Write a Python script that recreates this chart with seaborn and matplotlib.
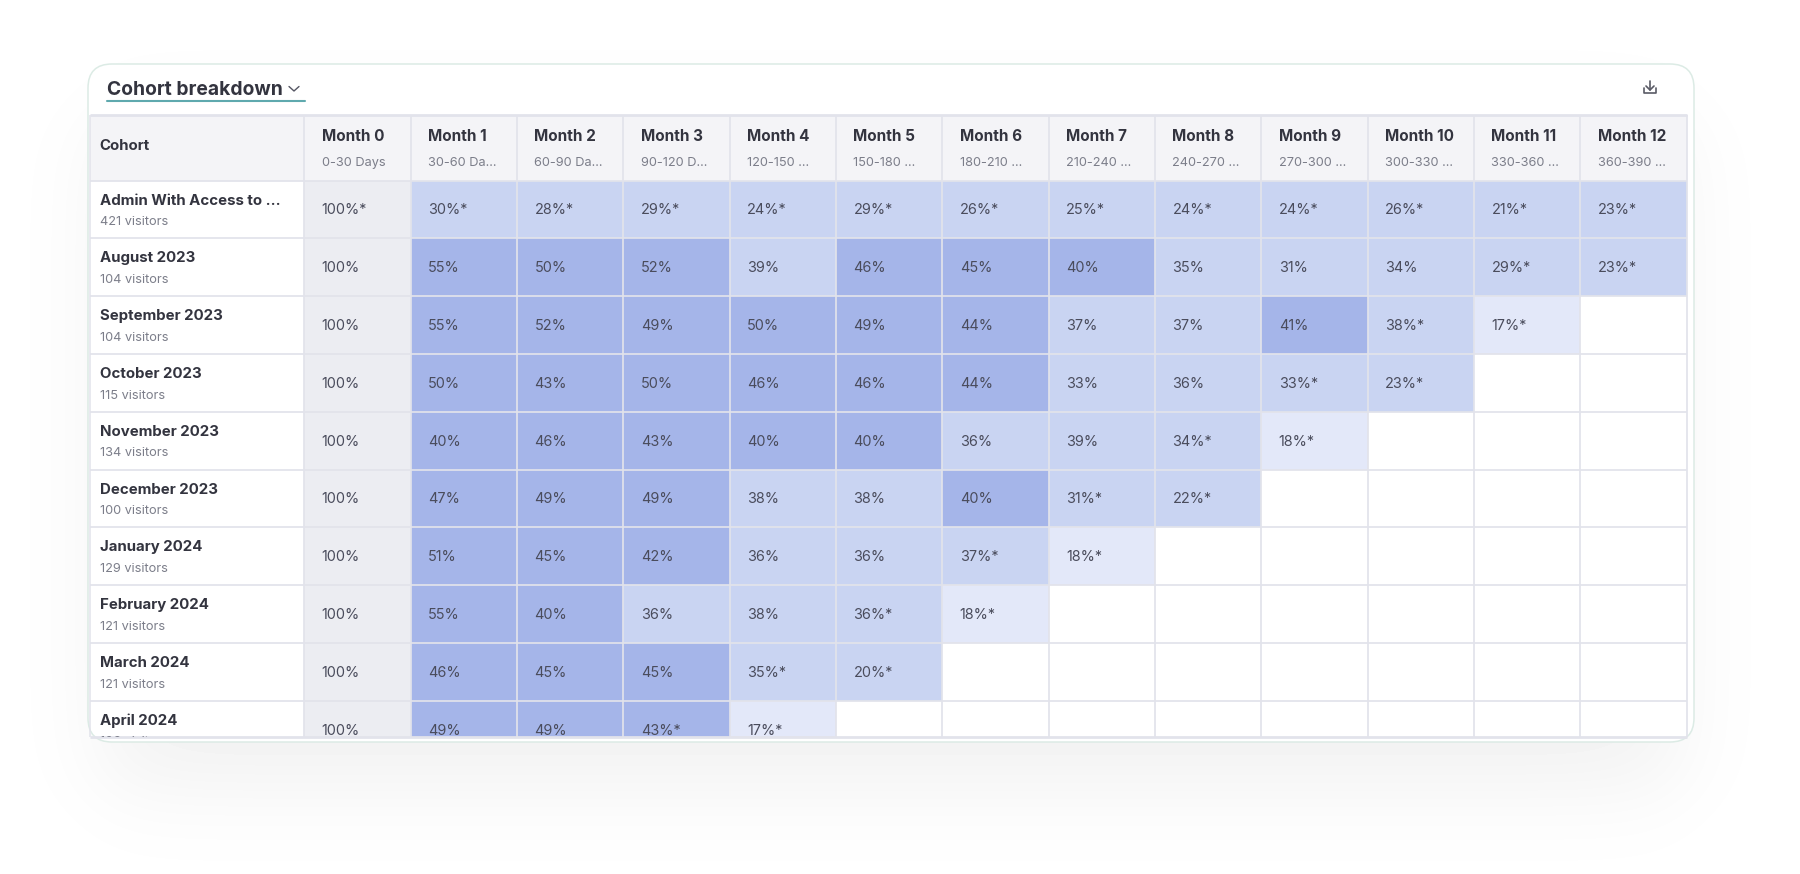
import numpy as np
import matplotlib
matplotlib.use("Agg")
import matplotlib.pyplot as plt
import seaborn as sns
from matplotlib.colors import ListedColormap, BoundaryNorm
from matplotlib.patches import FancyBboxPatch, Rectangle

months = ["Month 0", "Month 1", "Month 2", "Month 3", "Month 4", "Month 5", "Month 6",
          "Month 7", "Month 8", "Month 9", "Month 10", "Month 11", "Month 12"]
day_ranges = ["0-30 Days", "30-60 Da...", "60-90 Da...", "90-120 D...", "120-150 ...",
              "150-180 ...", "180-210 ...", "210-240 ...", "240-270 ...", "270-300 ...",
              "300-330 ...", "330-360 ...", "360-390 ..."]
cohorts = ["Admin With Access to ...", "August 2023", "September 2023", "October 2023",
           "November 2023", "December 2023", "January 2024", "February 2024",
           "March 2024", "April 2024"]
visitors = ["421 visitors", "104 visitors", "104 visitors", "115 visitors", "134 visitors",
            "100 visitors", "129 visitors", "121 visitors", "121 visitors", "106 visitors"]

admin = [100, 30, 28, 29, 24, 29, 26, 25, 24, 24, 26, 21, 23]
aug23 = [100, 55, 50, 52, 39, 46, 45, 40, 35, 31, 34, 29, 23]
sep23 = [100, 55, 52, 49, 50, 49, 44, 37, 37, 41, 38, 17]
oct23 = [100, 50, 43, 50, 46, 46, 44, 33, 36, 33, 23]
nov23 = [100, 40, 46, 43, 40, 40, 36, 39, 34, 18]
dec23 = [100, 47, 49, 49, 38, 38, 40, 31, 22]
jan24 = [100, 51, 45, 42, 36, 36, 37, 18]
feb24 = [100, 55, 40, 36, 38, 36, 18]
mar24 = [100, 46, 45, 45, 35, 20]
apr24 = [100, 49, 49, 43, 17]
rows = [admin, aug23, sep23, oct23, nov23, dec23, jan24, feb24, mar24, apr24]
# first month that carries the * in each row
star_from = [0, 11, 10, 9, 8, 7, 6, 5, 4, 3]

W, H = 1800, 874
GRID = "#E2E3EB"
DARK = "#33343F"
GREY = "#7C7E8A"
CELLTXT = "#4A4C5C"

sns.set_theme(style="white")
plt.rcParams["font.family"] = ["Inter", "DejaVu Sans"]

fig = plt.figure(figsize=(W / 100, H / 100), dpi=100, facecolor="white")

# page layer in pixel coordinates: shadow and card
bg = fig.add_axes([0, 0, 1, 1])
xx, yy = np.meshgrid(np.arange(W), np.arange(H))
sx = 0.5 * (np.tanh((xx - 100) / 55) - np.tanh((xx - 1680) / 55))
sy = 0.5 * (np.tanh((yy - 120) / 55) - np.tanh((yy - 790) / 55))
bg.imshow(1 - 0.055 * sx * sy, cmap="gray", vmin=0, vmax=1, extent=(0, W, H, 0), aspect="auto")
bg.add_patch(FancyBboxPatch((88, 64), 1606, 678, boxstyle="round,pad=0,rounding_size=24",
                            fc="white", ec="#DCEBE5", lw=1.1))
bg.text(107, 90, "Cohort breakdown", fontsize=13.9, fontweight="bold", color=DARK, va="center")
bg.plot([289, 294, 299], [86.5, 91, 86.5], color="#555663", lw=1.0)
bg.plot([107, 305], [101, 101], color="#5FA9AE", lw=1.5)
# download icon
bg.plot([1644, 1644, 1656, 1656], [88, 93, 93, 88], color="#5A5B66", lw=1.2)
bg.plot([1650, 1650], [81, 90], color="#5A5B66", lw=1.2)
bg.plot([1646, 1650, 1654], [86, 90, 86], color="#5A5B66", lw=1.2)
bg.set_xlim(0, W)
bg.set_ylim(H, 0)
bg.axis("off")

# heatmap layer, one data unit is one cell
left, right, top, bottom = 304.2, 1686.6, 180.6, 737.0
cell_w = (right - left) / 13
cell_h = 57.8
ax = fig.add_axes([left / W, 1 - bottom / H, (right - left) / W, (bottom - top) / H])
ax.patch.set_alpha(0)

n_rows, n_cols = len(rows), len(months)
values = np.full((n_rows, n_cols), np.nan)
labels = np.full((n_rows, n_cols), "", dtype=object)
for i, row in enumerate(rows):
    for j, v in enumerate(row):
        values[i, j] = v
        labels[i, j] = f"{v}%" + ("*" if j >= star_from[i] else "")

cmap = ListedColormap(["#E3E8F9", "#C9D4F2", "#A5B5E9", "#ECEDF2"])
norm = BoundaryNorm([0, 20, 40, 100, 101], 4)
sns.heatmap(values, ax=ax, cmap=cmap, norm=norm, cbar=False, annot=labels, fmt="",
            annot_kws={"fontsize": 10.4, "color": CELLTXT}, xticklabels=False, yticklabels=False)

pad = 17.5 / cell_w
for t in ax.texts:
    x, y = t.get_position()
    t.set_position((x - 0.5 + pad, y + 0.015))
    t.set_ha("left")

view_bottom = (bottom - top) / cell_h
ax.set_xlim(0, n_cols)
ax.set_ylim(view_bottom, 0)
ax.axis("off")

# header band and cohort column sit outside the axes box
head_h = (top - 114.8) / cell_h
coh_left = -(left - 89.5) / cell_w
ax.add_patch(Rectangle((coh_left, -head_h), n_cols - coh_left, head_h, fc="#F4F4F7", ec="none",
                       clip_on=False, zorder=1))
ax.vlines(np.arange(n_cols + 1), -head_h, view_bottom, color=GRID, lw=1.25, clip_on=False, zorder=3)
ax.hlines(np.arange(n_rows), coh_left, n_cols, color=GRID, lw=1.25, clip_on=False, zorder=3)
ax.hlines([-head_h, view_bottom], coh_left, n_cols, color=GRID, lw=2, clip_on=False, zorder=3)
ax.vlines([coh_left], -head_h, view_bottom, color=GRID, lw=1.1, clip_on=False, zorder=3)

for j, (m, d) in enumerate(zip(months, day_ranges)):
    ax.text(j + pad, -0.755, m, fontsize=11, fontweight="bold", color=DARK, va="center",
            clip_on=False, zorder=4)
    ax.text(j + pad, -0.30, d, fontsize=9.2, color=GREY, va="center", clip_on=False, zorder=4)

name_x = (99.5 - left) / cell_w
ax.text(name_x, -(top - 146) / cell_h, "Cohort", fontsize=10.8, fontweight="bold", color=DARK,
        va="center", clip_on=False, zorder=4)
clip = Rectangle((coh_left, 0), -coh_left, view_bottom, transform=ax.transData)
for i, (c, v) in enumerate(zip(cohorts, visitors)):
    name = ax.text(name_x, i + 0.345, c, fontsize=10.8, fontweight="bold", color=DARK, va="center", zorder=4)
    sub = ax.text(name_x, i + 0.72, v, fontsize=9.2, color=GREY, va="center", zorder=4)
    # ax.text resets a rectangle clip, so set it afterwards
    for t in (name, sub):
        t.set_clip_path(clip)
        t.set_clip_on(True)

fig.savefig("out.png", dpi=100)
